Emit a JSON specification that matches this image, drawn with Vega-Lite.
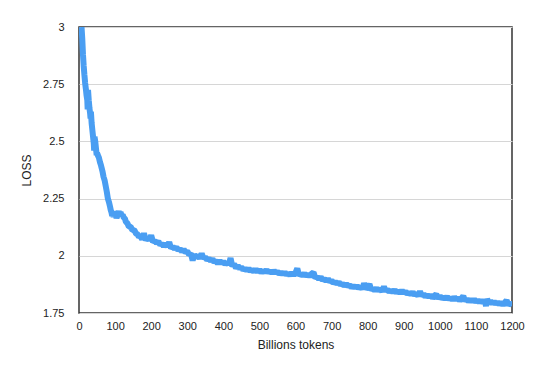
{
  "$schema": "https://vega.github.io/schema/vega-lite/v6.json",
  "width": 433,
  "height": 286,
  "autosize": "none",
  "padding": {"left": 79, "top": 27, "right": 43, "bottom": 60},
  "background": "white",
  "config": {
    "view": {"stroke": "#333333", "strokeWidth": 1.5},
    "font": "Liberation Sans",
    "axis": {"labelFont": "Liberation Sans", "titleFont": "Liberation Sans", "labelColor": "#222222", "titleColor": "#222222", "titleFontWeight": "normal"}
  },
  "data": {"values": [
    {"t": 7, "loss": 3.0}, {"t": 9, "loss": 2.95}, {"t": 11, "loss": 2.88}, {"t": 13, "loss": 2.83}, {"t": 15, "loss": 2.79},
    {"t": 17, "loss": 2.755}, {"t": 19, "loss": 2.73}, {"t": 21, "loss": 2.70}, {"t": 23, "loss": 2.68}, {"t": 24, "loss": 2.64},
    {"t": 25, "loss": 2.725}, {"t": 27, "loss": 2.68}, {"t": 29, "loss": 2.645}, {"t": 31, "loss": 2.62}, {"t": 32, "loss": 2.60},
    {"t": 33, "loss": 2.63}, {"t": 35, "loss": 2.58}, {"t": 37, "loss": 2.55}, {"t": 39, "loss": 2.52}, {"t": 41, "loss": 2.49},
    {"t": 42, "loss": 2.46}, {"t": 43, "loss": 2.52}, {"t": 45, "loss": 2.50}, {"t": 47, "loss": 2.47}, {"t": 49, "loss": 2.44},
    {"t": 50, "loss": 2.45}, {"t": 52, "loss": 2.44}, {"t": 55, "loss": 2.43}, {"t": 58, "loss": 2.41}, {"t": 61, "loss": 2.395},
    {"t": 65, "loss": 2.37}, {"t": 68, "loss": 2.345}, {"t": 71, "loss": 2.33}, {"t": 74, "loss": 2.305}, {"t": 77, "loss": 2.28},
    {"t": 80, "loss": 2.25}, {"t": 83, "loss": 2.235}, {"t": 86, "loss": 2.215}, {"t": 88, "loss": 2.2}, {"t": 90, "loss": 2.19},
    {"t": 92, "loss": 2.175}, {"t": 94, "loss": 2.185}, {"t": 96, "loss": 2.17}, {"t": 98, "loss": 2.195}, {"t": 100, "loss": 2.172},
    {"t": 102, "loss": 2.18}, {"t": 104, "loss": 2.165}, {"t": 106, "loss": 2.174}, {"t": 108, "loss": 2.185}, {"t": 110, "loss": 2.196},
    {"t": 112, "loss": 2.178}, {"t": 115, "loss": 2.19}, {"t": 118, "loss": 2.176}, {"t": 121, "loss": 2.18}, {"t": 124, "loss": 2.166},
    {"t": 127, "loss": 2.164}, {"t": 130, "loss": 2.148}, {"t": 134, "loss": 2.143}, {"t": 138, "loss": 2.128}, {"t": 143, "loss": 2.127},
    {"t": 148, "loss": 2.112}, {"t": 153, "loss": 2.113}, {"t": 158, "loss": 2.097}, {"t": 163, "loss": 2.093}, {"t": 166, "loss": 2.082},
    {"t": 170, "loss": 2.086}, {"t": 175, "loss": 2.072}, {"t": 180, "loss": 2.098}, {"t": 185, "loss": 2.068}, {"t": 190, "loss": 2.080},
    {"t": 195, "loss": 2.068}, {"t": 200, "loss": 2.090}, {"t": 205, "loss": 2.061}, {"t": 210, "loss": 2.066}, {"t": 215, "loss": 2.055},
    {"t": 220, "loss": 2.063}, {"t": 225, "loss": 2.047}, {"t": 230, "loss": 2.054}, {"t": 235, "loss": 2.041}, {"t": 240, "loss": 2.053},
    {"t": 245, "loss": 2.040}, {"t": 250, "loss": 2.060}, {"t": 255, "loss": 2.033}, {"t": 260, "loss": 2.040}, {"t": 265, "loss": 2.030},
    {"t": 270, "loss": 2.038}, {"t": 275, "loss": 2.024}, {"t": 280, "loss": 2.031}, {"t": 285, "loss": 2.018}, {"t": 290, "loss": 2.029},
    {"t": 295, "loss": 2.014}, {"t": 300, "loss": 2.020}, {"t": 305, "loss": 2.005}, {"t": 310, "loss": 2.010}, {"t": 315, "loss": 1.980},
    {"t": 320, "loss": 2.006}, {"t": 325, "loss": 1.992}, {"t": 330, "loss": 2.001}, {"t": 335, "loss": 1.988}, {"t": 340, "loss": 2.010},
    {"t": 345, "loss": 1.988}, {"t": 350, "loss": 1.995}, {"t": 355, "loss": 1.982}, {"t": 360, "loss": 1.988}, {"t": 365, "loss": 1.977},
    {"t": 370, "loss": 1.986}, {"t": 375, "loss": 1.971}, {"t": 380, "loss": 1.979}, {"t": 385, "loss": 1.966}, {"t": 390, "loss": 1.979},
    {"t": 395, "loss": 1.967}, {"t": 400, "loss": 1.975}, {"t": 405, "loss": 1.963}, {"t": 410, "loss": 1.971}, {"t": 415, "loss": 1.962},
    {"t": 420, "loss": 1.990}, {"t": 425, "loss": 1.954}, {"t": 430, "loss": 1.965}, {"t": 435, "loss": 1.946}, {"t": 440, "loss": 1.957},
    {"t": 445, "loss": 1.944}, {"t": 450, "loss": 1.951}, {"t": 455, "loss": 1.938}, {"t": 460, "loss": 1.945}, {"t": 465, "loss": 1.935},
    {"t": 470, "loss": 1.945}, {"t": 475, "loss": 1.932}, {"t": 480, "loss": 1.941}, {"t": 485, "loss": 1.929}, {"t": 490, "loss": 1.942},
    {"t": 495, "loss": 1.930}, {"t": 500, "loss": 1.939}, {"t": 505, "loss": 1.927}, {"t": 510, "loss": 1.936}, {"t": 515, "loss": 1.928},
    {"t": 520, "loss": 1.939}, {"t": 525, "loss": 1.926}, {"t": 530, "loss": 1.935}, {"t": 535, "loss": 1.923}, {"t": 540, "loss": 1.936},
    {"t": 545, "loss": 1.924}, {"t": 550, "loss": 1.932}, {"t": 555, "loss": 1.920}, {"t": 560, "loss": 1.928}, {"t": 565, "loss": 1.919},
    {"t": 570, "loss": 1.929}, {"t": 575, "loss": 1.916}, {"t": 580, "loss": 1.925}, {"t": 585, "loss": 1.914}, {"t": 590, "loss": 1.927},
    {"t": 595, "loss": 1.916}, {"t": 600, "loss": 1.925}, {"t": 605, "loss": 1.945}, {"t": 610, "loss": 1.914}, {"t": 615, "loss": 1.921},
    {"t": 620, "loss": 1.913}, {"t": 625, "loss": 1.923}, {"t": 630, "loss": 1.911}, {"t": 635, "loss": 1.920}, {"t": 640, "loss": 1.909},
    {"t": 645, "loss": 1.922}, {"t": 650, "loss": 1.928}, {"t": 655, "loss": 1.902}, {"t": 660, "loss": 1.908}, {"t": 665, "loss": 1.898},
    {"t": 670, "loss": 1.907}, {"t": 675, "loss": 1.893}, {"t": 680, "loss": 1.901}, {"t": 685, "loss": 1.888}, {"t": 690, "loss": 1.900},
    {"t": 695, "loss": 1.886}, {"t": 700, "loss": 1.893}, {"t": 705, "loss": 1.880}, {"t": 710, "loss": 1.887}, {"t": 715, "loss": 1.877},
    {"t": 720, "loss": 1.886}, {"t": 725, "loss": 1.872}, {"t": 730, "loss": 1.880}, {"t": 735, "loss": 1.867}, {"t": 740, "loss": 1.879},
    {"t": 745, "loss": 1.866}, {"t": 750, "loss": 1.873}, {"t": 755, "loss": 1.861}, {"t": 760, "loss": 1.869}, {"t": 765, "loss": 1.860},
    {"t": 770, "loss": 1.870}, {"t": 775, "loss": 1.857}, {"t": 780, "loss": 1.866}, {"t": 785, "loss": 1.854}, {"t": 790, "loss": 1.880},
    {"t": 795, "loss": 1.855}, {"t": 800, "loss": 1.863}, {"t": 805, "loss": 1.876}, {"t": 810, "loss": 1.850}, {"t": 815, "loss": 1.858},
    {"t": 820, "loss": 1.848}, {"t": 825, "loss": 1.859}, {"t": 830, "loss": 1.847}, {"t": 835, "loss": 1.856}, {"t": 840, "loss": 1.844},
    {"t": 845, "loss": 1.866}, {"t": 850, "loss": 1.845}, {"t": 855, "loss": 1.853}, {"t": 860, "loss": 1.842}, {"t": 865, "loss": 1.850},
    {"t": 870, "loss": 1.841}, {"t": 875, "loss": 1.851}, {"t": 880, "loss": 1.838}, {"t": 885, "loss": 1.848}, {"t": 890, "loss": 1.836},
    {"t": 895, "loss": 1.849}, {"t": 900, "loss": 1.837}, {"t": 905, "loss": 1.845}, {"t": 910, "loss": 1.832}, {"t": 915, "loss": 1.840},
    {"t": 920, "loss": 1.831}, {"t": 925, "loss": 1.841}, {"t": 930, "loss": 1.828}, {"t": 935, "loss": 1.836}, {"t": 940, "loss": 1.824},
    {"t": 945, "loss": 1.845}, {"t": 950, "loss": 1.825}, {"t": 955, "loss": 1.833}, {"t": 960, "loss": 1.821}, {"t": 965, "loss": 1.829},
    {"t": 970, "loss": 1.819}, {"t": 975, "loss": 1.829}, {"t": 980, "loss": 1.816}, {"t": 985, "loss": 1.825}, {"t": 990, "loss": 1.833},
    {"t": 995, "loss": 1.813}, {"t": 1000, "loss": 1.825}, {"t": 1005, "loss": 1.812}, {"t": 1010, "loss": 1.820}, {"t": 1015, "loss": 1.812},
    {"t": 1020, "loss": 1.822}, {"t": 1025, "loss": 1.809}, {"t": 1030, "loss": 1.818}, {"t": 1035, "loss": 1.807}, {"t": 1040, "loss": 1.820},
    {"t": 1045, "loss": 1.808}, {"t": 1050, "loss": 1.816}, {"t": 1055, "loss": 1.804}, {"t": 1060, "loss": 1.813}, {"t": 1065, "loss": 1.824},
    {"t": 1070, "loss": 1.802}, {"t": 1075, "loss": 1.812}, {"t": 1080, "loss": 1.800}, {"t": 1085, "loss": 1.810}, {"t": 1090, "loss": 1.799},
    {"t": 1095, "loss": 1.810}, {"t": 1100, "loss": 1.798}, {"t": 1105, "loss": 1.807}, {"t": 1110, "loss": 1.796}, {"t": 1115, "loss": 1.806},
    {"t": 1120, "loss": 1.795}, {"t": 1125, "loss": 1.805}, {"t": 1128, "loss": 1.780}, {"t": 1131, "loss": 1.812}, {"t": 1135, "loss": 1.793},
    {"t": 1140, "loss": 1.803}, {"t": 1145, "loss": 1.790}, {"t": 1150, "loss": 1.801}, {"t": 1155, "loss": 1.788}, {"t": 1160, "loss": 1.799},
    {"t": 1165, "loss": 1.787}, {"t": 1170, "loss": 1.797}, {"t": 1175, "loss": 1.785}, {"t": 1180, "loss": 1.795}, {"t": 1185, "loss": 1.806},
    {"t": 1190, "loss": 1.784}, {"t": 1195, "loss": 1.793}, {"t": 1200, "loss": 1.786}
  ]},
  "mark": {"type": "line", "color": "#4a9ef2", "strokeWidth": 6, "strokeJoin": "bevel", "clip": true},
  "encoding": {
    "x": {
      "field": "t", "type": "quantitative",
      "scale": {"domain": [0, 1200], "nice": false},
      "axis": {
        "title": "Billions tokens", "titleFontSize": 12, "titlePadding": 8, "format": "d",
        "values": [0, 100, 200, 300, 400, 500, 600, 700, 800, 900, 1000, 1100, 1200],
        "labelFontSize": 11, "labelPadding": 7, "ticks": false, "domain": false, "grid": false,
        "labelFlush": false, "labelOverlap": false
      }
    },
    "y": {
      "field": "loss", "type": "quantitative",
      "scale": {"domain": [1.75, 3], "nice": false, "zero": false},
      "axis": {
        "title": "LOSS", "titleFontSize": 12, "titlePadding": 9,
        "values": [1.75, 2, 2.25, 2.5, 2.75, 3], "labelExpr": "datum.value + ''",
        "labelFontSize": 11, "labelPadding": 15, "ticks": false, "domain": false,
        "grid": true, "gridColor": "#d6d6d6", "gridWidth": 1,
        "labelFlush": false, "labelOverlap": false
      }
    }
  }
}
